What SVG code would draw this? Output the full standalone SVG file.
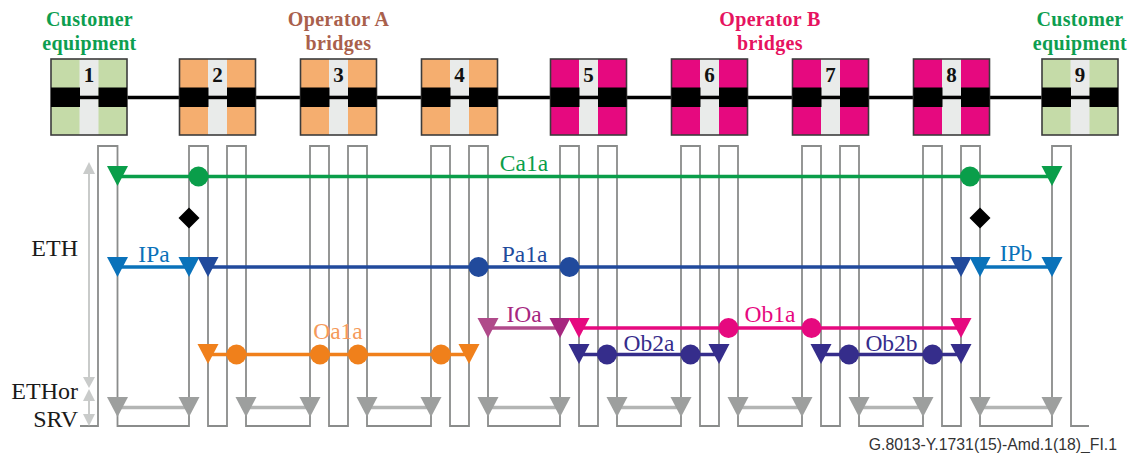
<svg xmlns="http://www.w3.org/2000/svg" xmlns:xlink="http://www.w3.org/1999/xlink" width="1136" height="453" viewBox="0 0 1136 453">
<style>
text{font-family:"Liberation Serif","Times New Roman",serif}
.h{font-weight:bold;font-size:20px;text-anchor:middle;letter-spacing:.35px}
.n{font-weight:bold;font-size:21px;text-anchor:middle;fill:#111}
.l{font-size:23.500px;text-anchor:middle}
.e{font-size:24px;fill:#1a1a1a;text-anchor:end}
.b{fill:#000}.s{fill:#e9ebea}
.ce{fill:#c5dba8}.oa{fill:#f5ae6f}.ob{fill:#e6097f}
.f{fill:none;stroke:#3c3c3c;stroke-width:1.600}
.w{fill:none;stroke:#8a8c8b;stroke-width:1.800}
.ln{fill:none;stroke-width:3.600}
</style>
<defs>
<polygon id="t" points="-10.500,-10 10.500,-10 0,10"/>
<circle id="o" r="10"/>
<polygon id="d" points="0,-10.500 10.500,0 0,10.500 -10.500,0"/>
<g id="box">
<rect x="0" y="0" width="76" height="76"/>
<rect class="s" x="28.500" y="0" width="19" height="76"/>
<rect class="f" x="0" y="0" width="76" height="76"/>
<rect class="b" x="0" y="28.500" width="29" height="19.500"/>
<rect class="b" x="47.500" y="28.500" width="28.500" height="19.500"/>
<rect class="b" x="28" y="36.700" width="20" height="3.500"/>
</g>
</defs>

<g id="labels">
<text class="h" x="89.500" y="26" fill="#0d9e50">Customer</text>
<text class="h" x="89.500" y="50" fill="#0d9e50">equipment</text>
<text class="h" x="338.500" y="26" fill="#a9604c">Operator A</text>
<text class="h" x="338.500" y="50" fill="#a9604c">bridges</text>
<text class="h" x="770" y="26" fill="#e6135f">Operator B</text>
<text class="h" x="770" y="50" fill="#e6135f">bridges</text>
<text class="h" x="1080" y="26" fill="#0d9e50">Customer</text>
<text class="h" x="1080" y="50" fill="#0d9e50">equipment</text>
<text class="e" x="78" y="256">ETH</text>
<text class="e" x="78" y="399">ETHor</text>
<text class="e" x="78" y="427">SRV</text>
<text x="1117" y="450" text-anchor="end" style="font-family:'Liberation Sans',Arial,sans-serif;font-size:15.800px;fill:#333">G.8013-Y.1731(15)-Amd.1(18)_FI.1</text>
</g>

<g id="connectors">
<path d="M127 97.500H1042" fill="none" stroke="#000" stroke-width="3.500"/>
<path class="w" d="M80 426H98V146H117.500V426H189V146H208V426H227V146H246V426H310V146H329V426H348V146H367V426H431V146H450V426H469V146H488V426H560V146H579V426H598V146H617V426H681V146H700V426H719V146H738V426H802V146H821V426H840V146H859V426H923V146H942V426H961V146H980V426H1052V146H1071V426H1089"/>

<g fill="#c9cbca" stroke="none">
<rect x="88" y="172" width="2" height="206"/>
<polygon points="89,162 83,174 95,174"/>
<polygon points="83,377 95,377 89,388"/>
<polygon points="89,389 83,401 95,401"/>
<rect x="88" y="400" width="2" height="15"/>
<polygon points="83,414 95,414 89,426"/>
</g>

<g id="srv" fill="#9d9f9e">
<path d="M117.500 407.500H189M246 407.500H310M367 407.500H431M488 407.500H560M617 407.500H681M738 407.500H802M859 407.500H923M980 407.500H1052" class="ln" stroke="#b3b5b4"/>
<use xlink:href="#t" x="117.500" y="407"/><use xlink:href="#t" x="189" y="407"/>
<use xlink:href="#t" x="246" y="407"/><use xlink:href="#t" x="310" y="407"/>
<use xlink:href="#t" x="367" y="407"/><use xlink:href="#t" x="431" y="407"/>
<use xlink:href="#t" x="488" y="407"/><use xlink:href="#t" x="560" y="407"/>
<use xlink:href="#t" x="617" y="407"/><use xlink:href="#t" x="681" y="407"/>
<use xlink:href="#t" x="738" y="407"/><use xlink:href="#t" x="802" y="407"/>
<use xlink:href="#t" x="859" y="407"/><use xlink:href="#t" x="923" y="407"/>
<use xlink:href="#t" x="980" y="407"/><use xlink:href="#t" x="1052" y="407"/>
</g>

<g id="Ca1a" fill="#0a9e4a">
<path class="ln" stroke="#0a9e4a" d="M117.500 176.500H1052"/>
<use xlink:href="#t" x="117.500" y="176"/><use xlink:href="#o" x="198.500" y="176.500"/><use xlink:href="#o" x="970" y="176.500"/><use xlink:href="#t" x="1052" y="176"/>
<text class="l" x="524" y="171">Ca1a</text>
</g>
<g id="diamonds" fill="#000">
<use xlink:href="#d" x="189" y="218"/><use xlink:href="#d" x="980" y="218"/>
</g>
<g id="IPa" fill="#0a72ba">
<path class="ln" stroke="#0a72ba" d="M117.500 267H189"/>
<use xlink:href="#t" x="117.500" y="267"/><use xlink:href="#t" x="189" y="267"/>
<text class="l" x="154" y="262">IPa</text>
</g>
<g id="Pa1a" fill="#214a9c">
<path class="ln" stroke="#214a9c" d="M208 267H961"/>
<use xlink:href="#t" x="208" y="267"/><use xlink:href="#o" x="478.500" y="267"/><use xlink:href="#o" x="569.500" y="267"/><use xlink:href="#t" x="961" y="267"/>
<text class="l" x="524.500" y="262">Pa1a</text>
</g>
<g id="IPb" fill="#0a72ba">
<path class="ln" stroke="#0a72ba" d="M980 267H1052"/>
<use xlink:href="#t" x="980" y="267"/><use xlink:href="#t" x="1052" y="267"/>
<text class="l" x="1016" y="261">IPb</text>
</g>
<g id="Oa1a" fill="#f0801b">
<path class="ln" stroke="#f0801b" d="M208 354.500H469"/>
<use xlink:href="#t" x="208" y="354"/><use xlink:href="#o" x="236.500" y="354.500"/><use xlink:href="#o" x="320" y="354.500"/><use xlink:href="#o" x="358" y="354.500"/><use xlink:href="#o" x="441" y="354.500"/><use xlink:href="#t" x="469" y="354"/>
<text class="l" x="338" y="339" fill="#f59a5a">Oa1a</text>
</g>
<g id="IOa" fill="#a6277f">
<path class="ln" stroke="#b04a8a" d="M488 328H560"/>
<use xlink:href="#t" x="488" y="328" fill="#b04a8a"/><use xlink:href="#t" x="560" y="328"/>
<text class="l" x="524" y="322">IOa</text>
</g>
<g id="Ob1a" fill="#e6097f">
<path class="ln" stroke="#e6097f" d="M579 328H961"/>
<use xlink:href="#t" x="579" y="328"/><use xlink:href="#o" x="728.500" y="328"/><use xlink:href="#o" x="811.500" y="328"/><use xlink:href="#t" x="961" y="328"/>
<text class="l" x="770" y="322">Ob1a</text>
</g>
<g id="Ob2a" fill="#352d8b">
<path class="ln" stroke="#352d8b" d="M579 354.500H719"/>
<use xlink:href="#t" x="579" y="354"/><use xlink:href="#o" x="607" y="354.500"/><use xlink:href="#o" x="690.500" y="354.500"/><use xlink:href="#t" x="719" y="354"/>
<text class="l" x="649" y="351">Ob2a</text>
</g>
<g id="Ob2b" fill="#352d8b">
<path class="ln" stroke="#352d8b" d="M821 354.500H961"/>
<use xlink:href="#t" x="821" y="354"/><use xlink:href="#o" x="849" y="354.500"/><use xlink:href="#o" x="932.500" y="354.500"/><use xlink:href="#t" x="961" y="354"/>
<text class="l" x="891.500" y="351">Ob2b</text>
</g>
</g>

<g id="node-1" class="ce"><use xlink:href="#box" x="51" y="59"/><text class="n" x="89" y="82">1</text></g>
<g id="node-2" class="oa"><use xlink:href="#box" x="179.500" y="59"/><text class="n" x="217.500" y="82">2</text></g>
<g id="node-3" class="oa"><use xlink:href="#box" x="300.500" y="59"/><text class="n" x="338.500" y="82">3</text></g>
<g id="node-4" class="oa"><use xlink:href="#box" x="421.500" y="59"/><text class="n" x="459.500" y="82">4</text></g>
<g id="node-5" class="ob"><use xlink:href="#box" x="550.500" y="59"/><text class="n" x="588.500" y="82">5</text></g>
<g id="node-6" class="ob"><use xlink:href="#box" x="671.500" y="59"/><text class="n" x="709.500" y="82">6</text></g>
<g id="node-7" class="ob"><use xlink:href="#box" x="792.500" y="59"/><text class="n" x="830.500" y="82">7</text></g>
<g id="node-8" class="ob"><use xlink:href="#box" x="913.500" y="59"/><text class="n" x="951.500" y="82">8</text></g>
<g id="node-9" class="ce"><use xlink:href="#box" x="1042" y="59"/><text class="n" x="1080" y="82">9</text></g>
</svg>
